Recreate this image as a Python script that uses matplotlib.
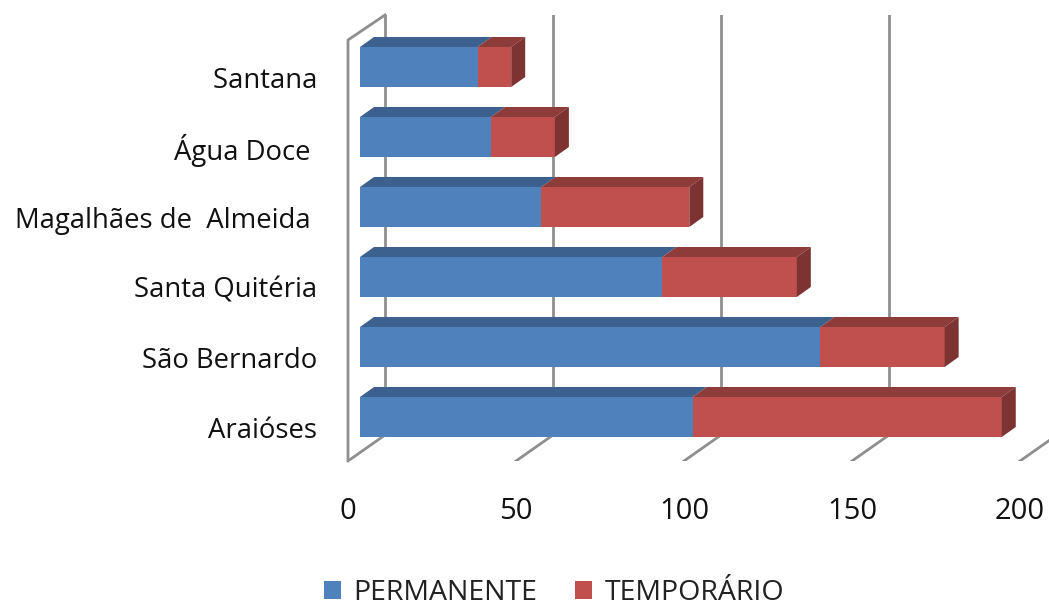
import matplotlib
matplotlib.use("Agg")
import matplotlib.pyplot as plt
from matplotlib.transforms import ScaledTranslation

categorias = ["Araióses ", "São Bernardo ", "Santa Quitéria ", "Magalhães de  Almeida  ", "Água Doce  ", "Santana "]
permanente = [99, 137, 90, 54, 39, 35]
temporario = [92, 37, 40, 44, 19, 10]
ticks_x = [0, 50, 100, 150, 200]

W, H = 1049, 606
px_x = 3.36  # pixels por unidade no eixo x
px_y = 70.0  # distancia entre categorias
prof_x = 14 / px_x
prof_y = 10 / px_y

plt.rcParams["font.family"] = ["Open Sans", "DejaVu Sans"]

fig = plt.figure(figsize=(W / 100, H / 100), dpi=100)
# eixo vai de x=348 ate a borda direita, y=15 ate y=461
ax = fig.add_axes([348 / W, 1 - 461 / H, (W - 348) / W, (461 - 15) / H])
ax.set_xlim(-12 / px_x, (W - 360) / px_x)
ax.set_ylim(-(461 - 417) / px_y, (417 - 15) / px_y)
for s in ax.spines.values():
    s.set_visible(False)

pos = list(range(len(categorias)))
cor_grade = "#8f8f8f"
lw_grade = 2.0

# deslocamentos da parede 3D em relacao ao inicio das barras
fx = -12 / px_x
bx = 25 / px_x
y_base = -(461 - 417) / px_y
y_fundo = -(435 - 417) / px_y
y_topo = (417 - 15) / px_y

for t in ticks_x:
    ax.plot([t + fx, t + bx], [y_base, y_fundo], color=cor_grade, lw=lw_grade, zorder=1, clip_on=True)
    ax.plot([t + bx, t + bx], [y_fundo, y_topo], color=cor_grade, lw=lw_grade, zorder=1, clip_on=True)
# parede esquerda
y_topo_frente = (417 - 40) / px_y
ax.plot([fx, fx, bx], [y_base, y_topo_frente, y_topo], color=cor_grade, lw=lw_grade, zorder=1, clip_on=False)

h = 40 / px_y
ax.barh(pos, permanente, height=h, color="#4F81BD", label="PERMANENTE", zorder=3)
ax.barh(pos, temporario, height=h, left=permanente, color="#C0504D", label="TEMPORÁRIO", zorder=3)

for y, p, t in zip(pos, permanente, temporario):
    topo = y + h / 2
    base = y - h / 2
    fim = p + t
    ax.fill([0, p, p + prof_x, prof_x], [topo, topo, topo + prof_y, topo + prof_y], color="#3C618F", lw=0, zorder=3)
    ax.fill([p, fim, fim + prof_x, p + prof_x], [topo, topo, topo + prof_y, topo + prof_y], color="#8E3C3A", lw=0, zorder=3)
    ax.fill([fim, fim + prof_x, fim + prof_x, fim], [base, base + prof_y, topo + prof_y, topo], color="#7C3331", lw=0, zorder=3)

ax.set_yticks(pos, categorias)
ax.set_xticks(ticks_x, [str(t) for t in ticks_x])
ax.tick_params(axis="y", length=0, pad=17, labelsize=19.8, labelcolor="#111111")
ax.tick_params(axis="x", length=0, pad=26, labelsize=21, labelcolor="#111111")
desloc_x = ScaledTranslation(-12 / 100, 0, fig.dpi_scale_trans)
for rot in ax.get_xticklabels():
    rot.set_transform(rot.get_transform() + desloc_x)
    rot.set_clip_on(False)
desloc_y = ScaledTranslation(0, -10 / 100, fig.dpi_scale_trans)
for rot in ax.get_yticklabels():
    rot.set_transform(rot.get_transform() + desloc_y)
    rot.set_verticalalignment("center_baseline")

fig.legend(
    loc="center", bbox_to_anchor=(554 / W, 1 - 593 / H), ncol=2, frameon=False,
    fontsize=20.5, labelcolor="#222222", handlelength=0.6, handleheight=0.6,
    handletextpad=0.45, columnspacing=1.3, borderpad=0,
)

fig.savefig("out.png", dpi=100)
